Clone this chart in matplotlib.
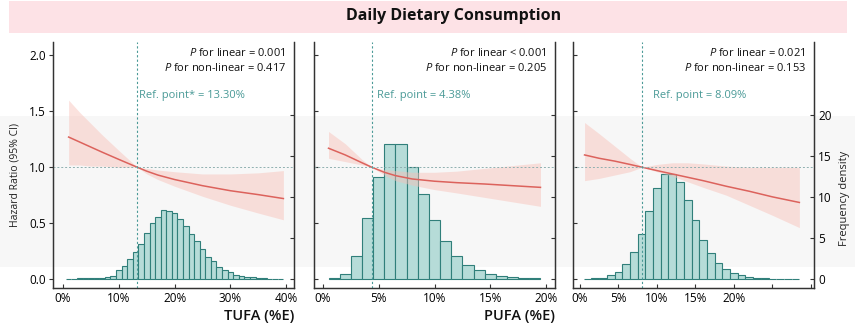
import numpy as np
import matplotlib.pyplot as plt
from matplotlib.patches import Rectangle

plt.rcParams['font.family'] = ['Open Sans', 'DejaVu Sans']
plt.rcParams['mathtext.fontset'] = 'custom'
plt.rcParams['mathtext.it'] = 'Open Sans:italic'
plt.rcParams['mathtext.rm'] = 'Open Sans'

# ---- data ----
refs = [13.30, 4.38, 8.09]
ref_txt = ['Ref. point* = 13.30%', 'Ref. point = 4.38%', 'Ref. point = 8.09%']
p_lin = ['= 0.001', '< 0.001', '= 0.021']
p_nonlin = ['= 0.417', '= 0.205', '= 0.153']

# spline curves (x in %E, hazard ratio with 95% CI)
x1 = [1, 3, 5, 7, 10, 13.3, 15, 17, 20, 25, 30, 35, 39.5]
hr1 = [1.27, 1.225, 1.18, 1.135, 1.07, 1.0, 0.965, 0.93, 0.89, 0.835, 0.79, 0.755, 0.72]
lo1 = [1.02, 1.02, 1.01, 1.01, 1.0, 1.0, 0.94, 0.89, 0.83, 0.74, 0.66, 0.59, 0.53]
hi1 = [1.60, 1.49, 1.39, 1.29, 1.15, 1.0, 0.99, 0.975, 0.96, 0.94, 0.94, 0.95, 0.97]

x2 = [0.5, 2, 3.5, 4.38, 5.5, 6.5, 8, 10, 12, 14.5, 17, 19.5]
hr2 = [1.17, 1.11, 1.04, 1.0, 0.955, 0.925, 0.895, 0.875, 0.862, 0.85, 0.835, 0.82]
lo2 = [1.08, 1.05, 1.02, 1.0, 0.93, 0.88, 0.84, 0.80, 0.77, 0.73, 0.69, 0.65]
hi2 = [1.32, 1.21, 1.07, 1.0, 0.98, 0.97, 0.955, 0.955, 0.965, 0.99, 1.015, 1.04]

x3 = [0.6, 2.5, 4.5, 6.5, 8.09, 10, 12, 14, 16, 19, 22, 25, 28.5]
hr3 = [1.11, 1.08, 1.055, 1.025, 1.0, 0.97, 0.94, 0.91, 0.88, 0.83, 0.785, 0.735, 0.685]
lo3 = [0.88, 0.90, 0.93, 0.96, 1.0, 0.96, 0.92, 0.87, 0.82, 0.75, 0.66, 0.57, 0.46]
hi3 = [1.40, 1.30, 1.19, 1.08, 1.0, 1.025, 1.04, 1.04, 1.03, 1.01, 1.0, 1.0, 1.0]

# histograms: bins of 1 %E starting at 0.5 %E, frequency density
dens1 = [0.05, 0.06, 0.08, 0.1, 0.12, 0.1, 0.1, 0.2, 0.41, 1.06, 1.64, 2.5, 3.3, 4.3,
         5.64, 6.8, 7.5, 8.47, 8.26, 8.1, 7.3, 6.46, 5.5, 4.6, 3.7, 2.7, 2.17, 1.43,
         1.15, 0.86, 0.53, 0.41, 0.2, 0.2, 0.12, 0.08, 0.06, 0.05, 0.04]
dens2 = [0.08, 0.65, 2.86, 7.4, 12.43, 16.4, 16.4, 13.7, 10.3, 7.2, 4.58, 2.78, 1.76,
         1.15, 0.61, 0.41, 0.29, 0.16, 0.08]
dens3 = [0.04, 0.08, 0.12, 0.45, 0.82, 1.8, 3.35, 5.44, 8.26, 11.1, 12.76, 12.84, 11.8,
         9.6, 7.24, 4.7, 3.23, 1.92, 1.19, 0.7, 0.45, 0.25, 0.12, 0.08, 0.05, 0.04,
         0.03, 0.03]
bin_start = 0.5

xlabels = ['TUFA (%E)', 'PUFA (%E)', '']
xlims = [(-1.8, 41.4), (-0.8, 20.8), (-0.9, 30.4)]
xticks = [[0, 10, 20, 30, 40], [0, 5, 10, 15, 20], [0, 5, 10, 15, 20, 25, 30]]
xticklab = [['0%', '10%', '20%', '30%', '40%'],
            ['0%', '5%', '10%', '15%', '20%'],
            ['0%', '5%', '10%', '15%', '20%', '', '']]

curves = [(x1, hr1, lo1, hi1), (x2, hr2, lo2, hi2), (x3, hr3, lo3, hi3)]
hists = [dens1, dens2, dens3]

W, H = 855, 333
fig = plt.figure(figsize=(W / 100, H / 100), dpi=100)

# background bands
fig.add_artist(Rectangle((0, 1 - 267 / H), 1, (267 - 116) / H, transform=fig.transFigure,
                         color='#f7f7f7', zorder=-2, lw=0))
fig.add_artist(Rectangle((9 / W, 1 - 33 / H), (847 - 9) / W, 32 / H, transform=fig.transFigure,
                         color='#fde2e6', zorder=-1, lw=0))
fig.text(454 / W, 1 - 16 / H, 'Daily Dietary Consumption', ha='center', va='center',
         fontsize=11.5, fontweight='bold', color='#111111')

teal = '#4a9a97'
lefts = [53, 314, 573]
for i in range(3):
    ax = fig.add_axes([lefts[i] / W, 1 - 288 / H, 241 / W, 246 / H])
    ax2 = ax.twinx()
    ax.set_zorder(ax2.get_zorder() + 1)
    ax.patch.set_visible(False)
    ax2.patch.set_visible(False)

    d = hists[i]
    centers = bin_start + 0.5 + np.arange(len(d))
    ax2.bar(centers, d, width=1.0, color='#b6dcd8', edgecolor='#307f7a', linewidth=0.8)
    ax2.set_ylim(-0.08 * 13.62, 2.12 * 13.62)
    ax2.set_yticks([0, 5, 10, 15, 20])

    x, hr, lo, hi = curves[i]
    ax.fill_between(x, lo, hi, color='#f8bfb6', alpha=0.45, lw=0)
    ax.plot(x, hr, color='#dc625c', lw=1.1)
    ax.axvline(refs[i], color=teal, ls=(0, (2, 2)), lw=0.8)
    ax.axhline(1.0, color='#8fb0b0', ls=(0, (2, 2)), lw=0.7)

    ax.set_xlim(*xlims[i])
    ax.set_ylim(-0.08, 2.12)
    ax.set_yticks([0, 0.5, 1.0, 1.5, 2.0])
    ax.set_yticklabels(['0.0', '0.5', '1.0', '1.5', '2.0'])
    ax.set_xticks(xticks[i])
    ax.set_xticklabels(xticklab[i])

    for a in (ax, ax2):
        a.spines['top'].set_visible(False)
        for s in ('left', 'right', 'bottom'):
            a.spines[s].set_color('#333333')
            a.spines[s].set_linewidth(0.9)
    ax.tick_params(axis='x', direction='in', length=3, pad=3, labelsize=8.5, color='#333333')
    ax.tick_params(axis='y', direction='out' if i == 0 else 'in', length=3, pad=2,
                   labelsize=8.5, labelleft=(i == 0), color='#333333')
    ax2.tick_params(axis='y', direction='in', length=3, pad=3, labelsize=8.5,
                    labelright=(i == 2), color='#333333')

    ax.text(0.967, 0.955, r'$\it{P}$ for linear ' + p_lin[i], transform=ax.transAxes,
            ha='right', va='center', fontsize=8, color='#111111')
    ax.text(0.967, 0.894, r'$\it{P}$ for non-linear ' + p_nonlin[i], transform=ax.transAxes,
            ha='right', va='center', fontsize=8, color='#111111')

    txt_x = [13.7, 4.85, 9.5][i]
    ax.text(txt_x, 1.64, ref_txt[i], ha='left', va='center', fontsize=8, color=teal)

    if xlabels[i]:
        ax.text(1.0, -0.114, xlabels[i], transform=ax.transAxes, ha='right', va='center',
                fontsize=10.5, fontweight='semibold', color='#111111')

fig.text(15 / W, 1 - 175 / H, 'Hazard Ratio (95% CI)', rotation=90, ha='center',
         va='center', fontsize=7.5, color='#222222')
fig.text(844 / W, 1 - 198 / H, 'Frequency density', rotation=90, ha='center',
         va='center', fontsize=8, color='#222222')

fig.savefig('out.png', dpi=100)
